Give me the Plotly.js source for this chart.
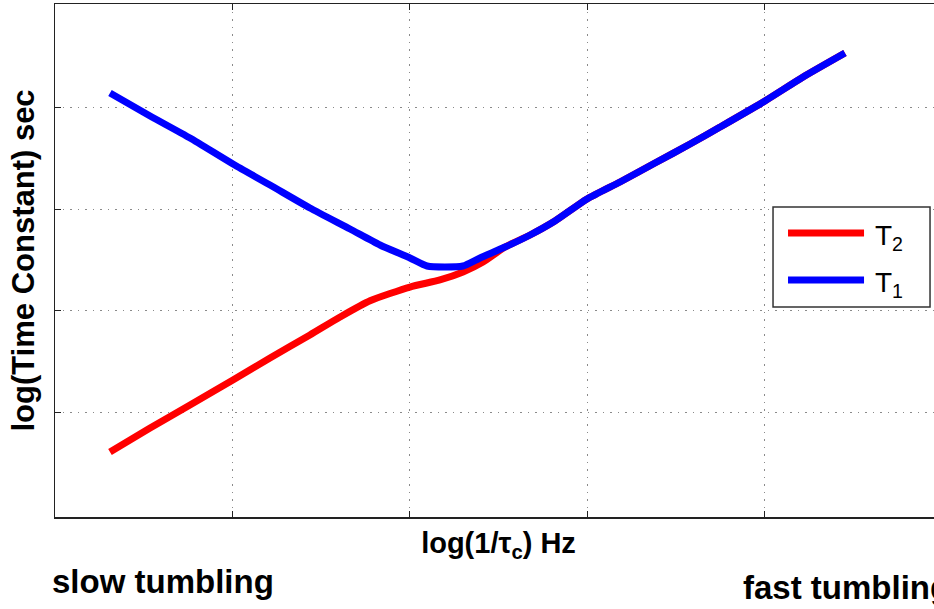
<!DOCTYPE html>
<html>
<head>
<meta charset="utf-8">
<script src="https://cdn.plot.ly/plotly-3.0.1.min.js"></script>
<style>
html, body { margin: 0; padding: 0; overflow: hidden; background: #fff; width: 934px; height: 609px; }
#chart { width: 970px; height: 609px; }
</style>
</head>
<body>
<div id="chart"></div>
<script>
// log(1/tau_c) positions (axis units) and log(time constant) values
const t1X = [0.310, 0.536, 0.761, 1.003, 1.212, 1.437, 1.663, 1.832, 2.001, 2.097, 2.198, 2.300, 2.396, 2.537, 2.678, 2.818, 2.999, 3.185, 3.382, 3.580, 3.749, 4.002, 4.217, 4.453];
const t1Y = [4.137, 3.912, 3.696, 3.441, 3.235, 3.010, 2.804, 2.647, 2.520, 2.441, 2.431, 2.441, 2.520, 2.627, 2.745, 2.882, 3.098, 3.265, 3.451, 3.637, 3.804, 4.059, 4.294, 4.529];
const t2X = [0.310, 0.536, 0.761, 1.003, 1.212, 1.437, 1.607, 1.776, 2.001, 2.170, 2.300, 2.413, 2.537, 2.678, 2.818, 2.999, 3.185, 3.382, 3.580, 3.749, 4.002, 4.217, 4.453];
const t2Y = [0.618, 0.853, 1.078, 1.324, 1.539, 1.765, 1.941, 2.100, 2.235, 2.304, 2.382, 2.480, 2.627, 2.745, 2.882, 3.098, 3.265, 3.451, 3.637, 3.804, 4.059, 4.294, 4.529];
const tickVals = [1, 2, 3, 4];
const seriesNames = ['T<sub>2</sub>', 'T<sub>1</sub>'];
const seriesColors = ['rgb(255,0,0)', 'rgb(0,0,255)'];
const xLabel = 'log(1/τ<sub>c</sub>) Hz';
const yLabel = 'log(Time Constant) sec';
const leftNote = 'slow tumbling';
const rightNote = 'fast tumbling';

const FONT = 'Liberation Sans, Arial, Helvetica, sans-serif';

const traces = [
  { x: t2X, y: t2Y, name: seriesNames[0], type: 'scatter', mode: 'lines',
    line: { color: seriesColors[0], width: 7, shape: 'spline', smoothing: 0.6 }, hoverinfo: 'skip' },
  { x: t1X, y: t1Y, name: seriesNames[1], type: 'scatter', mode: 'lines',
    line: { color: seriesColors[1], width: 7, shape: 'spline', smoothing: 0.6 }, hoverinfo: 'skip' }
];

// legend geometry (paper coords; plot area 55..942 px wide, 4..517 px tall)
const lg = { x0: 0.8095, x1: 0.9865, y0: 0.4094, y1: 0.6043,
             lx0: 0.8264, lx1: 0.9121, ly: [0.5536, 0.4620], tx: 0.9225 };

const axisCommon = {
  showline: true, mirror: 'ticks', linecolor: '#222', linewidth: 1.5,
  ticks: 'inside', ticklen: 6, tickwidth: 1, tickcolor: '#222',
  showticklabels: false, tickvals: tickVals,
  showgrid: true, gridcolor: '#8a8a8a', gridwidth: 1, griddash: '1.5px,6px',
  zeroline: false, fixedrange: true
};

const layout = {
  width: 970, height: 609,
  margin: { l: 55, r: 28, t: 4, b: 92 },
  paper_bgcolor: '#fff', plot_bgcolor: '#fff',
  showlegend: false,
  font: { family: FONT, color: '#000' },
  xaxis: Object.assign({}, axisCommon, {
    range: [0, 5],
    title: { text: '<b>' + xLabel + '</b>', font: { family: FONT, size: 29, color: '#000' }, standoff: 15 }
  }),
  yaxis: Object.assign({}, axisCommon, {
    range: [-0.02, 5.01],
    title: { text: '<b>' + yLabel + '</b>', font: { family: FONT, size: 31, color: '#000' }, standoff: 9 }
  }),
  shapes: [
    { type: 'rect', xref: 'paper', yref: 'paper', x0: lg.x0, x1: lg.x1, y0: lg.y0, y1: lg.y1,
      line: { color: '#333', width: 1.5 }, fillcolor: '#fff', layer: 'above' },
    { type: 'line', xref: 'paper', yref: 'paper', x0: lg.lx0, x1: lg.lx1, y0: lg.ly[0], y1: lg.ly[0],
      line: { color: seriesColors[0], width: 7 }, layer: 'above' },
    { type: 'line', xref: 'paper', yref: 'paper', x0: lg.lx0, x1: lg.lx1, y0: lg.ly[1], y1: lg.ly[1],
      line: { color: seriesColors[1], width: 7 }, layer: 'above' }
  ],
  annotations: [
    { xref: 'paper', yref: 'paper', x: lg.tx, y: lg.ly[0] - 0.008, xanchor: 'left', yanchor: 'middle',
      text: seriesNames[0], showarrow: false, font: { family: FONT, size: 28, color: '#000' } },
    { xref: 'paper', yref: 'paper', x: lg.tx, y: lg.ly[1] - 0.008, xanchor: 'left', yanchor: 'middle',
      text: seriesNames[1], showarrow: false, font: { family: FONT, size: 28, color: '#000' } },
    { xref: 'paper', yref: 'paper', x: -0.0056, y: -0.1248, xanchor: 'left', yanchor: 'middle',
      text: '<b>' + leftNote + '</b>', showarrow: false, font: { family: FONT, size: 33, color: '#000' } },
    { xref: 'paper', yref: 'paper', x: 0.7730, y: -0.1365, xanchor: 'left', yanchor: 'middle',
      text: '<b>' + rightNote + '</b>', showarrow: false, font: { family: FONT, size: 33, color: '#000' } }
  ]
};

Plotly.newPlot('chart', traces, layout, { staticPlot: true, displayModeBar: false });
</script>
</body>
</html>
